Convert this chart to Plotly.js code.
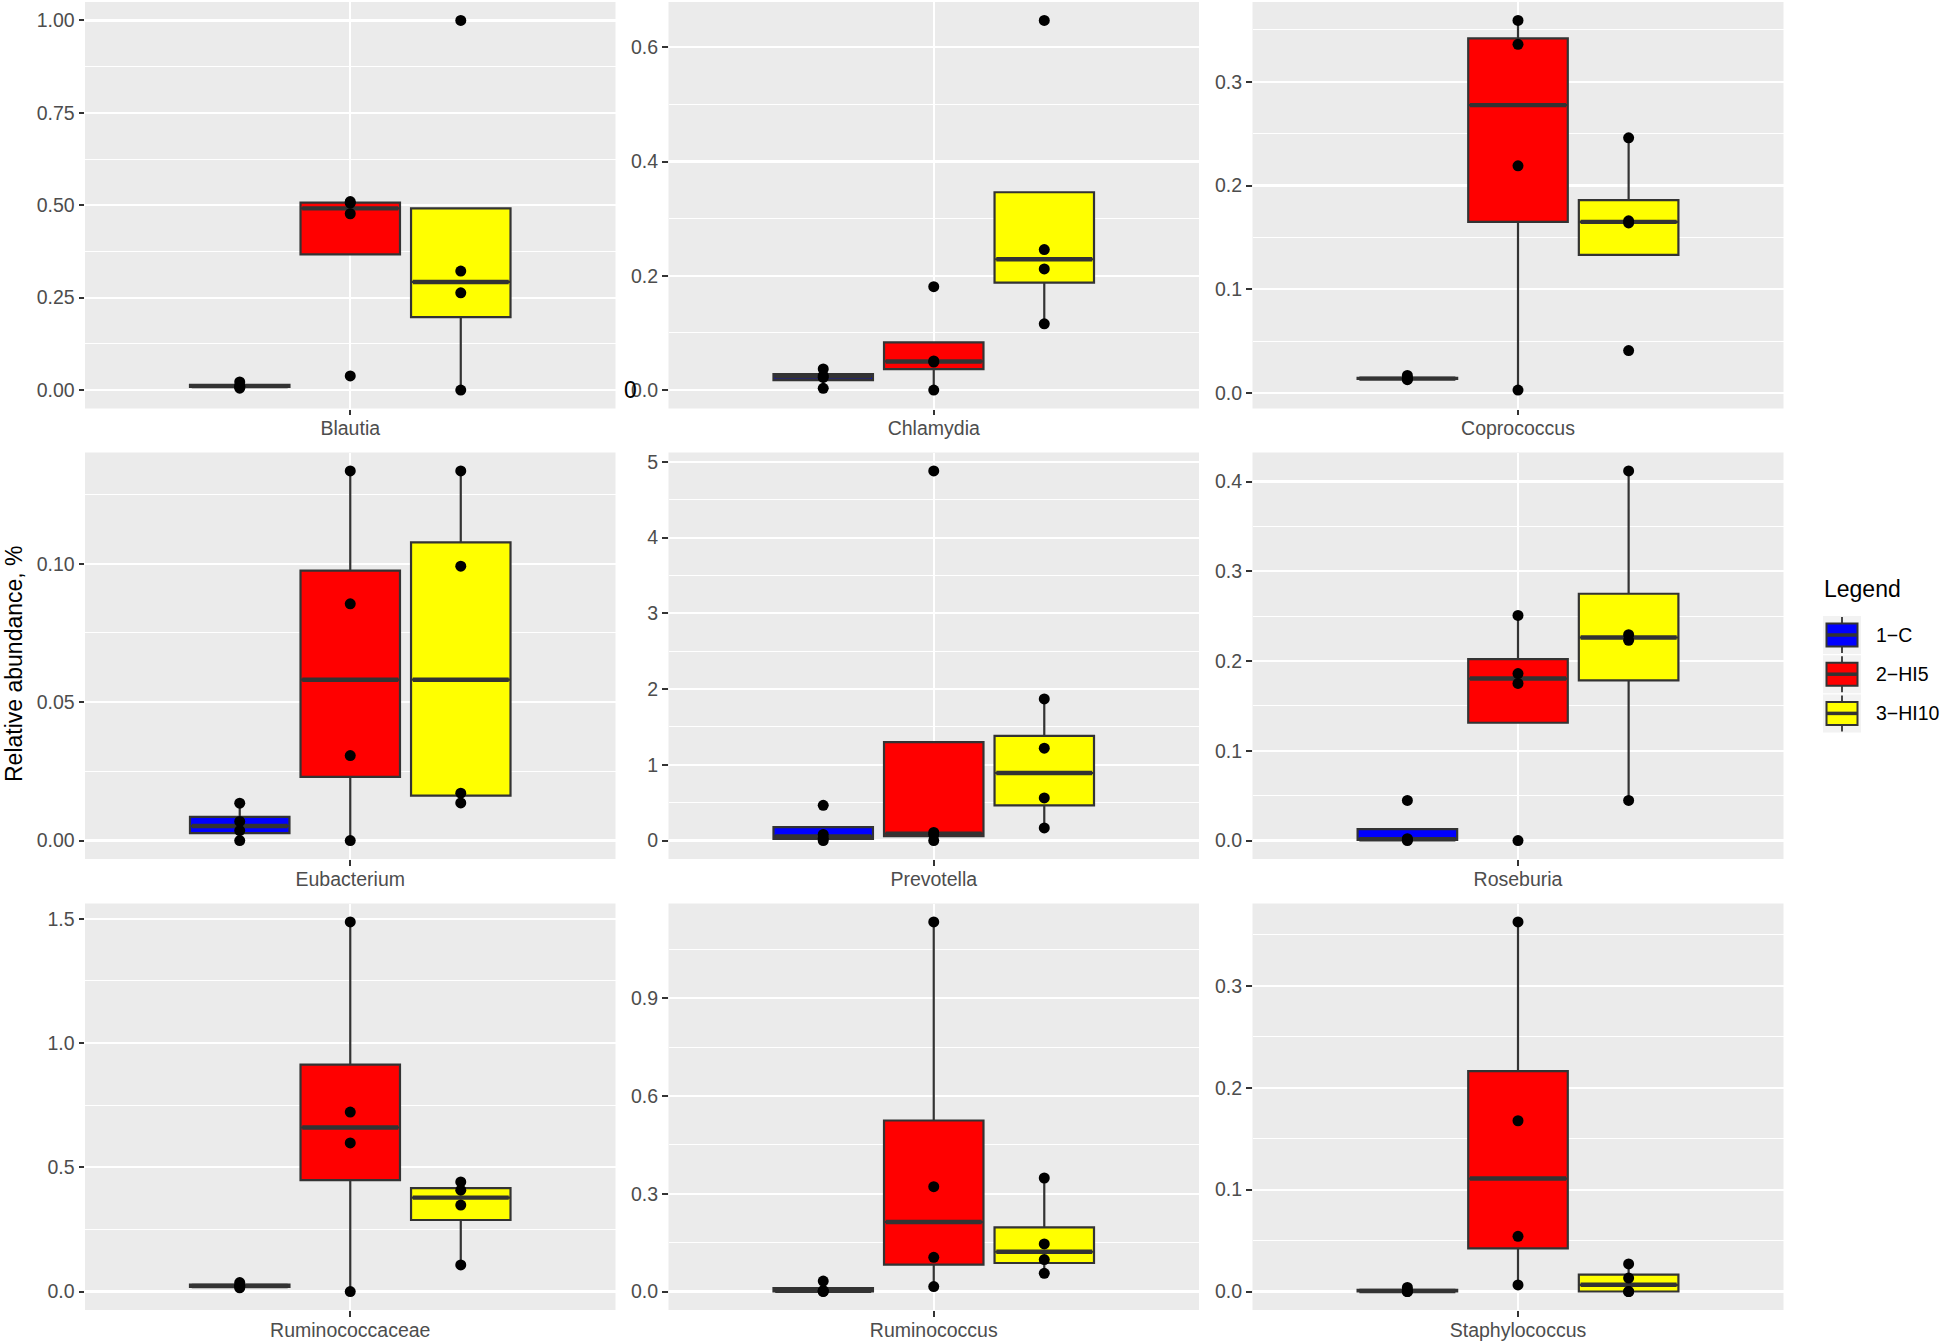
<!DOCTYPE html>
<html>
<head>
<meta charset="utf-8">
<script src="https://cdn.plot.ly/plotly-3.0.1.min.js"></script>
<style>html,body{margin:0;padding:0;background:#fff;}#chart{width:1946px;height:1344px;}</style>
</head>
<body>
<div id="chart"></div>
<script>
// ---------- data ----------
const genera = ['Blautia','Chlamydia','Coprococcus','Eubacterium','Prevotella','Roseburia','Ruminococcaceae','Ruminococcus','Staphylococcus'];
const groups = ['1\u2212C','2\u2212HI5','3\u2212HI10'];
const groupColors = ['#0000FF','#FF0000','#FFFF00'];

// each genus: [1-C values, 2-HI5 values, 3-HI10 values]
const blautia         = [[0.005,0.010,0.011,0.022],[0.038,0.477,0.506,0.510],[0.000,0.263,0.322,1.000]];
const chlamydia       = [[0.003,0.022,0.025,0.037],[0.000,0.049,0.051,0.181],[0.116,0.212,0.246,0.647]];
const coprococcus     = [[0.013,0.014,0.014,0.017],[0.003,0.219,0.336,0.359],[0.041,0.164,0.166,0.246]];
const eubacterium     = [[0.000,0.0036,0.0069,0.0135],[0.000,0.0307,0.0855,0.1335],[0.0136,0.0171,0.0991,0.1335]];
const prevotella      = [[0.000,0.030,0.080,0.465],[0.000,0.075,0.107,4.880],[0.167,0.563,1.220,1.870]];
const roseburia       = [[0.000,0.001,0.002,0.0447],[0.000,0.175,0.186,0.2508],[0.0447,0.2231,0.2294,0.4118]];
const ruminococcaceae = [[0.015,0.020,0.025,0.036],[0.000,0.598,0.722,1.487],[0.107,0.348,0.408,0.441]];
const ruminococcus    = [[0.000,0.001,0.003,0.032],[0.0153,0.105,0.3218,1.134],[0.056,0.098,0.1462,0.3484]];
const staphylococcus  = [[0.000,0.000,0.001,0.004],[0.0065,0.0542,0.1676,0.3627],[0.000,0.000,0.0132,0.0271]];

const panelData = [blautia, chlamydia, coprococcus, eubacterium, prevotella, roseburia, ruminococcaceae, ruminococcus, staphylococcus];
const tickStep = [0.25, 0.2, 0.1, 0.05, 1, 0.1, 0.5, 0.3, 0.1];
const tickFmt  = ['.2f','.1f','.1f','.2f','d','.1f','.1f','.1f','.1f'];
const yTitle = 'Relative abundance, %';
const legendTitle = 'Legend';

// ---------- layout geometry (pixels) ----------
const W = 1946, H = 1344;
const colX = [[85,615.5],[668.5,1199],[1252.5,1783.5]];
const rowY = [[2,408.5],[452.5,859],[903.5,1310]];
const px = x => x / W;
const py = y => 1 - y / H;

const FONT = 'Liberation Sans, Arial, Helvetica, sans-serif';
const OUT = '#333333';

// R type-7 quantile
function quant(s, p) {
  const h = (s.length - 1) * p, lo = Math.floor(h), hi = Math.min(lo + 1, s.length - 1);
  return s[lo] + (h - lo) * (s[hi] - s[lo]);
}

const traces = [];
const pointTraces = [];
const layout = {
  width: W, height: H,
  margin: {l: 0, r: 0, t: 0, b: 0},
  paper_bgcolor: '#FFFFFF',
  plot_bgcolor: '#EBEBEB',
  showlegend: false,
  boxmode: 'overlay',
  font: {family: FONT},
  shapes: [],
  annotations: []
};

const boxW = 0.225;
panelData.forEach((pd, k) => {
  const r = Math.floor(k / 3), c = k % 3;
  const xa = 'x' + (k === 0 ? '' : k + 1);
  const ya = 'y' + (k === 0 ? '' : k + 1);
  let all = [];
  pd.forEach((vals, g) => {
    const s = vals.slice().sort((a, b) => a - b);
    all = all.concat(s);
    const q1 = quant(s, 0.25), med = quant(s, 0.5), q3 = quant(s, 0.75);
    const iqr = q3 - q1;
    const lf = Math.min(...s.filter(v => v >= q1 - 1.5 * iqr));
    const uf = Math.max(...s.filter(v => v <= q3 + 1.5 * iqr));
    const pos = 1 + (g - 1) * 0.25;
    traces.push({
      type: 'box', xaxis: xa, yaxis: ya, name: groups[g],
      x: [pos], q1: [q1], median: [med], q3: [q3], lowerfence: [Math.min(lf, q1)], upperfence: [Math.max(uf, q3)],
      width: boxW, fillcolor: groupColors[g], line: {color: OUT, width: 2.2},
      whiskerwidth: 0, boxpoints: false, hoverinfo: 'skip'
    });
    traces.push({
      type: 'scatter', mode: 'lines', xaxis: xa, yaxis: ya,
      x: [pos - boxW / 2 + 0.004, pos + boxW / 2 - 0.004], y: [med, med],
      line: {color: OUT, width: 4.4}, hoverinfo: 'skip'
    });
    pointTraces.push({
      type: 'scatter', mode: 'markers', xaxis: xa, yaxis: ya,
      x: vals.map(() => pos), y: vals,
      marker: {color: '#000000', size: 11}, hoverinfo: 'skip'
    });
  });
  const mn = Math.min(...all), mx = Math.max(...all), d = mx - mn;
  const xk = 'xaxis' + (k === 0 ? '' : k + 1);
  const yk = 'yaxis' + (k === 0 ? '' : k + 1);
  layout[xk] = {
    domain: [px(colX[c][0]), px(colX[c][1])], anchor: ya,
    range: [0.4, 1.6], tickmode: 'array', tickvals: [1], ticktext: [genera[k]],
    showgrid: true, gridcolor: '#FFFFFF', gridwidth: 2.2, zeroline: false, showline: false,
    ticks: 'outside', ticklen: 5.5, tickwidth: 2, tickcolor: OUT, ticklabelstandoff: -3,
    tickfont: {family: FONT, size: 19.5, color: '#4D4D4D'}, fixedrange: true
  };
  layout[yk] = {
    domain: [py(rowY[r][1]), py(rowY[r][0])], anchor: xa,
    range: [mn - 0.05 * d, mx + 0.05 * d],
    tick0: 0, dtick: tickStep[k], tickformat: tickFmt[k],
    showgrid: true, gridcolor: '#FFFFFF', gridwidth: 2.2, zeroline: false, showline: false,
    minor: {dtick: tickStep[k] / 2, tick0: 0, showgrid: true, gridcolor: '#FFFFFF', gridwidth: 1.1, ticks: ''},
    ticks: 'outside', ticklen: 5.5, tickwidth: 2, tickcolor: OUT,
    tickfont: {family: FONT, size: 19.5, color: '#4D4D4D'}, fixedrange: true
  };
});

// y axis title
layout.annotations.push({
  text: yTitle, xref: 'paper', yref: 'paper', x: px(14), y: py(664),
  textangle: -90, showarrow: false, xanchor: 'center', yanchor: 'middle',
  font: {family: FONT, size: 23, color: '#000000'}
});
// stray "0" glyph seen over the Chlamydia 0.0 label in the reference
layout.annotations.push({
  text: '0', xref: 'paper', yref: 'paper', x: px(630.5), y: py(390),
  showarrow: false, xanchor: 'center', yanchor: 'middle',
  font: {family: FONT, size: 23, color: '#000000'}
});

// legend (drawn as keys)
layout.annotations.push({
  text: legendTitle, xref: 'paper', yref: 'paper', x: px(1822), y: py(589),
  showarrow: false, xanchor: 'left', yanchor: 'middle',
  font: {family: FONT, size: 23, color: '#000000'}
});
groups.forEach((gname, g) => {
  const cy = 635 + g * 39.2;
  layout.shapes.push({type: 'rect', xref: 'paper', yref: 'paper', x0: px(1823), x1: px(1861), y0: py(cy - 19), y1: py(cy + 19), fillcolor: '#F2F2F2', line: {width: 0}, layer: 'above'});
  layout.shapes.push({type: 'line', xref: 'paper', yref: 'paper', x0: px(1842), x1: px(1842), y0: py(cy - 18), y1: py(cy + 18), line: {color: OUT, width: 1.8}, layer: 'above'});
  layout.shapes.push({type: 'rect', xref: 'paper', yref: 'paper', x0: px(1826.5), x1: px(1857.5), y0: py(cy - 11.5), y1: py(cy + 11.5), fillcolor: groupColors[g], line: {color: OUT, width: 2}, layer: 'above'});
  layout.shapes.push({type: 'line', xref: 'paper', yref: 'paper', x0: px(1827), x1: px(1857), y0: py(cy), y1: py(cy), line: {color: OUT, width: 3.5}, layer: 'above'});
  layout.annotations.push({
    text: gname, xref: 'paper', yref: 'paper', x: px(1874), y: py(cy),
    showarrow: false, xanchor: 'left', yanchor: 'middle',
    font: {family: FONT, size: 19.5, color: '#000000'}
  });
});

Plotly.newPlot('chart', traces.concat(pointTraces), layout, {staticPlot: true, displayModeBar: false});
</script>
</body>
</html>
